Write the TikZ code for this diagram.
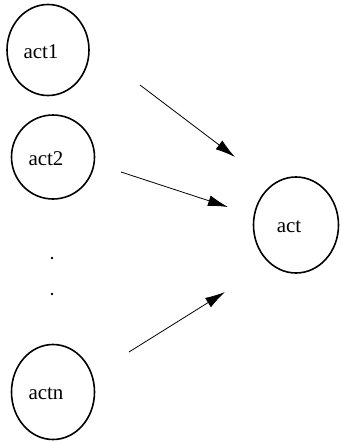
\documentclass[tikz,border=0pt]{standalone}
\usepackage{fontspec}
\setmainfont{Liberation Serif}
\usetikzlibrary{shapes.geometric,arrows.meta}

\begin{document}
\begin{tikzpicture}[x=1pt,y=-1pt]
    \tikzstyle{act state}=[
        draw = black,
        line width = 1.6pt,
        fill = white,
        ellipse,
        inner sep = 0pt
    ]
    \tikzstyle{act text}=[
        xshift = -7pt,
        yshift = -2pt,
        font = \fontsize{21}{25}\selectfont
    ]
    \tikzstyle{flow}=[
        line width = 0.8pt,
        -{Latex[length=20pt,width=11pt]}
    ]

    \useasboundingbox (0,0) rectangle (341,442);

	\node[act state, minimum width=82pt, minimum height=91pt, label={[act text]center:act1}] (a1) at (48, 50)   {};
	\node[act state, minimum width=83pt, minimum height=84pt, label={[act text]center:act2}] (a2) at (53, 157)  {};
	\node[act state, minimum width=83pt, minimum height=95pt, label={[act text]center:actn}] (an) at (53, 392)  {};
	\node[act state, minimum width=85pt, minimum height=96pt, label={[act text]center:act}]  (a)  at (296, 225) {};

	\fill (52, 258) circle (1.4pt);
	\fill (52, 294) circle (1.4pt);

	\coordinate (s1) at (140, 85);
	\coordinate (e1) at (235, 157);
	\coordinate (s2) at (121, 172);
	\coordinate (e2) at (228, 207);
	\coordinate (sn) at (129, 352);
	\coordinate (en) at (225, 292);

	\draw[flow] (s1) -- (e1);
	\draw[flow] (s2) -- (e2);
	\draw[flow] (sn) -- (en);

\end{tikzpicture}
\end{document}
